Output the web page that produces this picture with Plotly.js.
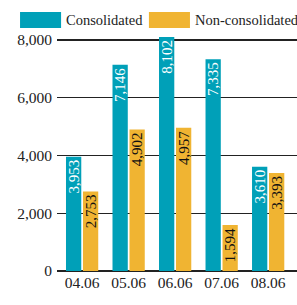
<!DOCTYPE html>
<html><head><meta charset="utf-8">
<script src="https://cdn.plot.ly/plotly-3.0.1.min.js"></script>
<style>html,body{margin:0;padding:0;background:#fff}#c{width:297px;height:305px}</style>
</head><body><div id="c"></div>
<script>
const categories = ["04.06","05.06","06.06","07.06","08.06"];
const consolidated = [3953, 7146, 8102, 7335, 3610];
const nonConsolidated = [2753, 4902, 4957, 1594, 3393];
const seriesNames = ["Consolidated", "Non-consolidated"];
const yTicks = [0, 2000, 4000, 6000, 8000];

const teal = "#00A0B8", gold = "#F0B432";
const fmt = v => v.toLocaleString("en-US");
const serif = "Liberation Serif";

const mk = (name, y, color, txtColor) => ({
  type: "bar", name, x: categories, y,
  marker: {color},
  text: y.map(fmt), textposition: "inside", insidetextanchor: "end",
  textangle: -90, constraintext: "none",
  insidetextfont: {family: serif, size: 15, color: txtColor},
  hoverinfo: "none", showlegend: false
});

const data = [mk(seriesNames[0], consolidated, teal, "#ffffff"),
              mk(seriesNames[1], nonConsolidated, gold, "#111111")];

const layout = {
  width: 297, height: 305,
  margin: {l: 57, r: 0, t: 36, b: 34},
  paper_bgcolor: "#fff", plot_bgcolor: "#fff",
  barmode: "group", bargap: 0.27, bargroupgap: 0.1,
  font: {family: serif, color: "#222"},
  xaxis: {type: "category", range: [-0.54, 4.62], tickfont: {size: 15.5, family: serif, color: "#222"},
          showgrid: false, zeroline: false, showline: false, ticks: "", ticklen: 0},
  yaxis: {range: [0, 8138], tickvals: yTicks, ticktext: yTicks.map(fmt),
          tickfont: {size: 15.5, family: serif, color: "#222"},
          showgrid: true, gridcolor: "#222", gridwidth: 1.3,
          zeroline: true, zerolinecolor: "#222", zerolinewidth: 1.3,
          showline: false, ticks: "", ticklabelstandoff: 4},
  shapes: [
    {type: "rect", xref: "paper", yref: "paper", x0: -0.154, x1: 0.017, y0: 1.034, y1: 1.102,
     fillcolor: teal, line: {width: 0}},
    {type: "rect", xref: "paper", yref: "paper", x0: 0.383, x1: 0.554, y0: 1.034, y1: 1.102,
     fillcolor: gold, line: {width: 0}}
  ],
  annotations: [
    {xref: "paper", yref: "paper", x: 0.034, y: 1.068, xanchor: "left", yanchor: "middle",
     text: seriesNames[0], showarrow: false, borderpad: 0, font: {family: serif, size: 14.5, color: "#222"}},
    {xref: "paper", yref: "paper", x: 0.57, y: 1.068, xanchor: "left", yanchor: "middle",
     text: seriesNames[1], showarrow: false, borderpad: 0, font: {family: serif, size: 14.5, color: "#222"}}
  ]
};
Plotly.newPlot("c", data, layout, {staticPlot: true, displayModeBar: false});
</script></body></html>
